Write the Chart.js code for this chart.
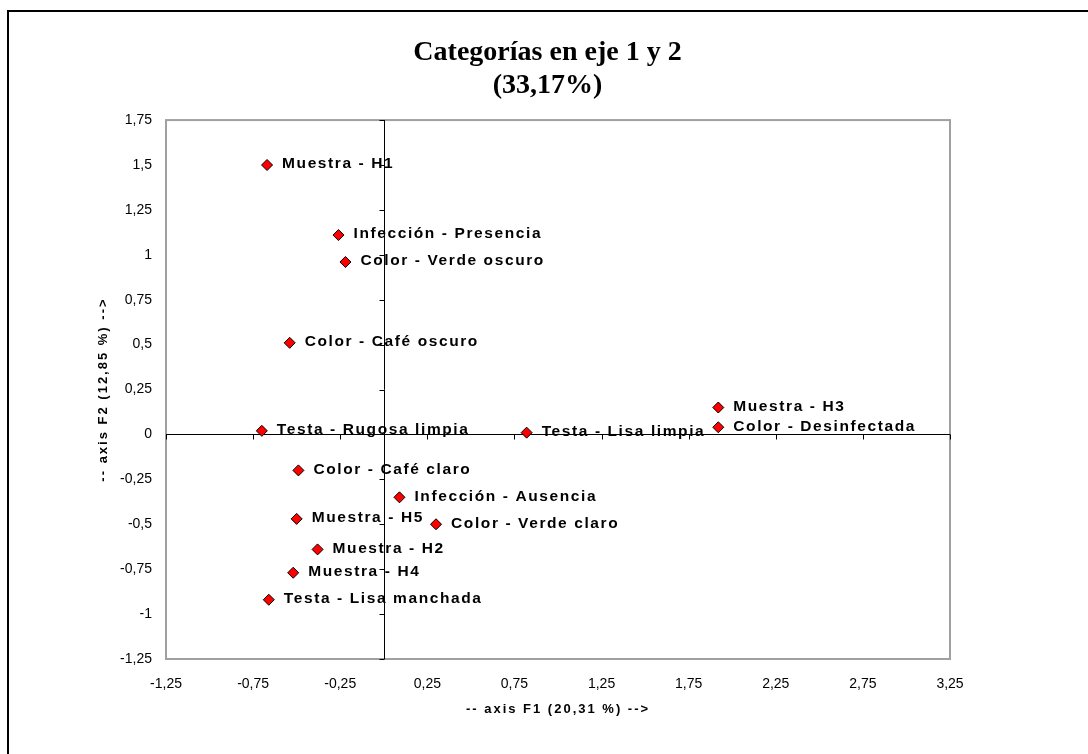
<!DOCTYPE html>
<html>
<head>
<meta charset="utf-8">
<title>Categorías en eje 1 y 2</title>
<script src="https://cdn.jsdelivr.net/npm/chart.js@4/dist/chart.umd.min.js"></script>
<style>
  html, body { margin: 0; padding: 0; background: #fff; overflow: hidden; }
  #chart { display: block; }
</style>
</head>
<body>
<canvas id="chart" width="1088" height="754"></canvas>
<script>
// category labels and their coordinates on F1 / F2
const categories = [
    'Muestra - H1', 'Infección - Presencia', 'Color - Verde oscuro', 'Color - Café oscuro',
    'Testa - Rugosa limpia', 'Testa - Lisa limpia', 'Muestra - H3', 'Color - Desinfectada',
    'Color - Café claro', 'Infección - Ausencia', 'Muestra - H5', 'Color - Verde claro',
    'Muestra - H2', 'Muestra - H4', 'Testa - Lisa manchada'
];
const f1Values = [-0.67, -0.26, -0.22, -0.54, -0.70, 0.82, 1.92, 1.92, -0.49, 0.09, -0.50, 0.30, -0.38, -0.52, -0.66];
const f2Values = [1.50, 1.11, 0.96, 0.51, 0.02, 0.01, 0.15, 0.04, -0.20, -0.35, -0.47, -0.50, -0.64, -0.77, -0.92];

const xTicks = [-1.25, -0.75, -0.25, 0.25, 0.75, 1.25, 1.75, 2.25, 2.75, 3.25];
const yTicks = [1.75, 1.5, 1.25, 1, 0.75, 0.5, 0.25, 0, -0.25, -0.5, -0.75, -1, -1.25];

const chartTitle = ['Categorías en eje 1 y 2', '(33,17%)'];
const xTitle = '-- axis F1 (20,31 %) -->';
const yTitle = '-- axis F2 (12,85 %) -->';

function formatTick(v) {
    return String(v).replace('.', ',');
}

// frame of the whole picture (top and left edges only) and grey box of the plot
const framePlugin = {
    id: 'frame',
    afterLayout(chart) {
        // center the title inside the outer frame, not over the plot
        chart.titleBlock.left = 7;
        chart.titleBlock.right = chart.width;
    },
    beforeDraw(chart) {
        const ctx = chart.ctx;
        ctx.save();
        ctx.fillStyle = '#ffffff';
        ctx.fillRect(0, 0, chart.width, chart.height);
        ctx.strokeStyle = '#000000';
        ctx.lineWidth = 2;
        ctx.beginPath();
        ctx.moveTo(8, chart.height);
        ctx.lineTo(8, 11);
        ctx.lineTo(chart.width, 11);
        ctx.stroke();
        ctx.restore();
    },
    beforeDatasetsDraw(chart) {
        const ctx = chart.ctx;
        const a = chart.chartArea;
        const xs = chart.scales.x;
        const ys = chart.scales.y;
        ctx.save();
        ctx.strokeStyle = '#a0a0a0';
        ctx.lineWidth = 2;
        ctx.strokeRect(a.left, a.top, a.right - a.left, a.bottom - a.top);

        // axes through the origin, with small tick marks
        const x0 = Math.round(xs.getPixelForValue(0)) + 0.5;
        const y0 = Math.round(ys.getPixelForValue(0)) + 0.5;
        ctx.strokeStyle = '#000000';
        ctx.lineWidth = 1;
        ctx.beginPath();
        ctx.moveTo(a.left, y0);
        ctx.lineTo(a.right, y0);
        ctx.moveTo(x0, a.top);
        ctx.lineTo(x0, a.bottom);
        xTicks.forEach(t => {
            const px = Math.round(xs.getPixelForValue(t)) + 0.5;
            ctx.moveTo(px, y0);
            ctx.lineTo(px, y0 + 5);
        });
        yTicks.forEach(t => {
            const py = Math.round(ys.getPixelForValue(t)) + 0.5;
            ctx.moveTo(x0, py);
            ctx.lineTo(x0 - 5, py);
        });
        ctx.stroke();
        ctx.restore();
    }
};

// category names next to the points, and the two axis titles
const labelPlugin = {
    id: 'pointLabels',
    afterDatasetsDraw(chart) {
        const ctx = chart.ctx;
        const a = chart.chartArea;
        const meta = chart.getDatasetMeta(0);
        ctx.save();
        ctx.fillStyle = '#000000';
        ctx.font = 'bold 15.5px "Liberation Sans", Arial, sans-serif';
        ctx.letterSpacing = '1.6px';
        ctx.textAlign = 'left';
        ctx.textBaseline = 'middle';
        meta.data.forEach((pt, i) => {
            ctx.fillText(categories[i], pt.x + 15, pt.y - 1);
        });

        ctx.font = 'bold 13px "Liberation Sans", Arial, sans-serif';
        ctx.letterSpacing = '2px';
        ctx.textAlign = 'center';
        ctx.fillText(xTitle, (a.left + a.right) / 2, 709);

        ctx.translate(103, (a.top + a.bottom) / 2);
        ctx.rotate(-Math.PI / 2);
        ctx.fillText(yTitle, 0, 0);
        ctx.restore();
    }
};

const ctx = document.getElementById('chart').getContext('2d');
new Chart(ctx, {
    type: 'scatter',
    data: {
        datasets: [{
            label: 'Categorías',
            data: categories.map((c, i) => ({ x: f1Values[i], y: f2Values[i] })),
            pointStyle: 'rectRot',
            pointRadius: 5.5,
            pointHoverRadius: 5.5,
            backgroundColor: '#ff0000',
            borderColor: '#000000',
            borderWidth: 1
        }]
    },
    options: {
        responsive: false,
        animation: false,
        layout: {
            padding: { top: 10, left: 0, right: 138, bottom: 0 }
        },
        plugins: {
            legend: { display: false },
            tooltip: { enabled: false },
            title: {
                display: true,
                text: chartTitle,
                color: '#000000',
                font: { family: '"Liberation Serif", "Times New Roman", serif', size: 28, weight: 'bold', lineHeight: 1.18 },
                padding: { top: 26.5, bottom: 17.5 }
            }
        },
        scales: {
            x: {
                type: 'linear',
                min: -1.25,
                max: 3.25,
                afterBuildTicks: scale => { scale.ticks = xTicks.map(v => ({ value: v })); },
                afterFit: scale => { scale.height = 95; },
                grid: { display: false, drawTicks: false },
                border: { display: false },
                ticks: {
                    color: '#000000',
                    padding: 17,
                    maxRotation: 0,
                    font: { family: '"Liberation Sans", Arial, sans-serif', size: 14 },
                    callback: v => formatTick(v)
                }
            },
            y: {
                type: 'linear',
                min: -1.25,
                max: 1.75,
                afterBuildTicks: scale => { scale.ticks = yTicks.slice().reverse().map(v => ({ value: v })); },
                afterFit: scale => { scale.width = 166; },
                grid: { display: false, drawTicks: false },
                border: { display: false },
                ticks: {
                    color: '#000000',
                    padding: 14,
                    font: { family: '"Liberation Sans", Arial, sans-serif', size: 14 },
                    callback: v => formatTick(v)
                }
            }
        }
    },
    plugins: [framePlugin, labelPlugin]
});
</script>
</body>
</html>
